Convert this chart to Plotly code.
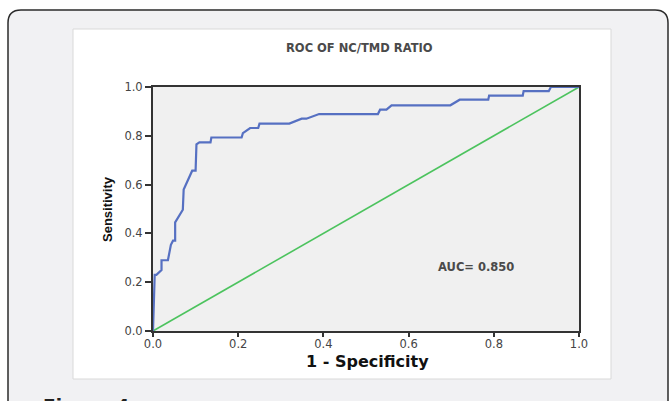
import plotly.graph_objects as go

# ROC curve (1 - specificity, sensitivity)
fpr = [0, 0.004, 0.008, 0.02, 0.02, 0.035, 0.042, 0.047, 0.052, 0.052,
       0.07, 0.072, 0.092, 0.1, 0.102, 0.109, 0.135, 0.137, 0.208, 0.211,
       0.228, 0.247, 0.25, 0.32, 0.349, 0.36, 0.39, 0.528, 0.533, 0.548,
       0.56, 0.698, 0.72, 0.787, 0.789, 0.868, 0.87, 0.929, 0.934, 1.0]
tpr = [0, 0.23, 0.23, 0.25, 0.29, 0.29, 0.353, 0.37, 0.37, 0.445,
       0.497, 0.58, 0.657, 0.657, 0.765, 0.773, 0.773, 0.793, 0.793, 0.811,
       0.832, 0.832, 0.85, 0.85, 0.87, 0.87, 0.889, 0.889, 0.907, 0.907,
       0.925, 0.925, 0.948, 0.948, 0.965, 0.965, 0.983, 0.983, 1.0, 1.0]
ref_x = [0, 1]
ref_y = [0, 1]
tick_vals = [0.0, 0.2, 0.4, 0.6, 0.8, 1.0]
tick_text = ["0.0", "0.2", "0.4", "0.6", "0.8", "1.0"]
title_text = "ROC OF NC/TMD RATIO"
auc_text = "AUC= 0.850"
x_title = "1 - Specificity"
y_title = "Sensitivity"
caption = "Figure 4:"

W, H = 670, 401
L, T, PW, PH = 153, 87, 426, 244
R = W - L - PW
B = H - T - PH


def fx(px):
    return (px - L) / PW


def fy(py):
    return (T + PH - py) / PH


fig = go.Figure()
fig.add_trace(go.Scatter(x=ref_x, y=ref_y, mode="lines",
                         line=dict(color="#4cc35e", width=1.6),
                         hoverinfo="skip", showlegend=False))
fig.add_trace(go.Scatter(x=fpr, y=tpr, mode="lines",
                         line=dict(color="#5670c2", width=2.2),
                         showlegend=False))

# card with rounded top corners
r = 13
card = (f"M {fx(8)},{fy(420)} L {fx(8)},{fy(10 + r)} "
        f"Q {fx(8)},{fy(10)} {fx(8 + r)},{fy(10)} "
        f"L {fx(668 - r)},{fy(10)} Q {fx(668)},{fy(10)} {fx(668)},{fy(10 + r)} "
        f"L {fx(668)},{fy(420)} Z")
shapes = [
    dict(type="path", xref="paper", yref="paper", path=card, layer="below",
         fillcolor="#f1f1f3", line=dict(color="#2b2b2b", width=1.5)),
    dict(type="rect", xref="paper", yref="paper", layer="below",
         x0=fx(73), x1=fx(611), y0=fy(379), y1=fy(29),
         fillcolor="#ffffff", line=dict(color="#d9d9d9", width=1)),
    dict(type="rect", xref="paper", yref="paper", layer="below",
         x0=0, x1=1, y0=0, y1=1,
         fillcolor="#f0f0f0", line=dict(width=0)),
]

annotations = [
    dict(text=f"<b>{title_text}</b>", xref="paper", yref="paper", x=fx(359), y=fy(48),
         showarrow=False, xanchor="center", yanchor="middle",
         font=dict(family="DejaVu Sans", size=11.5, color="#4a4a4a")),
    dict(text=f"<b>{auc_text}</b>", xref="paper", yref="paper", x=fx(476), y=fy(267),
         showarrow=False, xanchor="center", yanchor="middle",
         font=dict(family="DejaVu Sans", size=11.5, color="#4a4a4a")),
    dict(text=f"<b>{x_title}</b>", xref="paper", yref="paper", x=fx(367), y=fy(361),
         showarrow=False, xanchor="center", yanchor="middle",
         font=dict(family="DejaVu Sans", size=16, color="#111111")),
    dict(text=f"<b>{y_title}</b>", xref="paper", yref="paper", x=fx(107), y=fy(209),
         showarrow=False, xanchor="center", yanchor="middle", textangle=-90,
         font=dict(family="Liberation Sans", size=13, color="#111111")),
    dict(text=f"<b>{caption}</b>", xref="paper", yref="paper", x=fx(41), y=fy(393),
         showarrow=False, xanchor="left", yanchor="top",
         font=dict(family="DejaVu Sans", size=18.5, color="#222222")),
]

axis_common = dict(range=[0, 1], tickvals=tick_vals, ticktext=tick_text,
                   showgrid=False, zeroline=False, showline=True,
                   linecolor="#333333", linewidth=2, mirror=True,
                   ticks="outside", tickcolor="#333333", tickwidth=1.5,
                   tickfont=dict(family="DejaVu Sans", size=11.5, color="#444444"),
                   fixedrange=True)

fig.update_layout(
    width=W, height=H,
    margin=dict(l=L, r=R, t=T, b=B, pad=0),
    paper_bgcolor="#ffffff", plot_bgcolor="#f0f0f0",
    shapes=shapes, annotations=annotations,
    xaxis=dict(axis_common, ticklen=4, ticklabelstandoff=-3),
    yaxis=dict(axis_common, ticklen=6),
)

fig.write_html("out.html")
